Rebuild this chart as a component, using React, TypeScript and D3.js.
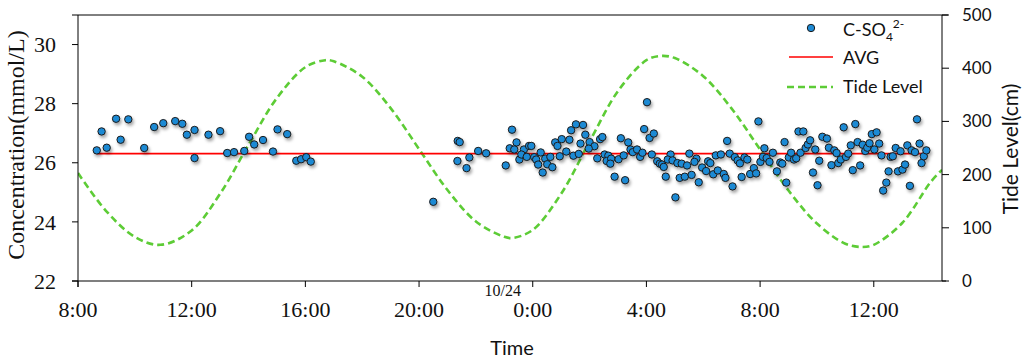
import React from "react";
import * as d3 from "d3";

// time = hours after 10/23 08:00
const concTime: number[] = [
  0.66, 0.83, 1.01, 1.34, 1.5, 1.77, 2.33, 2.68, 3.0, 3.42, 3.67, 3.83, 4.1, 4.1, 4.59, 5.0, 5.25, 5.49, 5.85, 6.02,
  6.2, 6.51, 6.86, 7.02, 7.36, 7.68, 7.85, 8.03, 8.19,
  12.5,
  13.36, 13.43, 13.35, 13.77, 13.67, 14.08, 14.36, 15.05, 15.27, 15.19, 15.43, 15.35, 15.53, 15.69, 15.6, 15.79, 15.87,
  15.95, 16.05, 16.12, 16.19, 16.28, 16.35, 16.44, 16.51, 16.62, 16.69, 16.79, 16.87, 17.02, 16.95, 17.18, 17.29, 17.35,
  17.52, 17.77, 17.85, 17.68, 17.43, 17.62, 18.0, 18.17, 17.97, 18.37, 18.45, 18.27, 18.53, 18.66, 18.6, 18.76, 18.73,
  18.88, 19.02, 19.2, 19.25, 19.1, 19.36, 19.44, 19.52, 19.67, 19.78, 19.86, 19.92, 20.02, 20.11, 20.26, 20.19, 20.38,
  20.47, 20.55, 20.61, 20.68, 20.85, 20.75, 20.92, 21.09, 21.24, 21.43, 21.51, 21.17, 21.35, 21.59, 21.02, 21.76, 21.69,
  21.84, 21.96, 22.1, 22.17, 22.25, 22.35, 22.44, 22.51, 22.62, 22.72, 22.78, 22.84, 22.93, 23.03, 23.11, 23.21, 23.29,
  23.35, 23.45, 23.55, 23.65, 23.78, 23.86, 23.94, 24.01, 24.15, 24.1, 24.23, 24.33, 24.45, 24.59, 24.71, 24.78, 24.86,
  24.92, 25.01, 25.09, 25.19, 25.27, 25.35, 25.52, 25.42, 25.6, 25.68, 25.76, 25.86, 25.94, 26.02, 26.08, 26.19, 26.35,
  26.42, 26.51, 26.61, 26.69, 26.75, 26.84, 26.94, 27.02, 27.1, 27.19, 27.26, 27.35, 27.43, 27.52, 27.61, 27.7, 27.77,
  27.85, 27.93, 28.02, 28.1, 28.19, 28.27, 28.44, 28.33, 28.52, 28.59, 28.67, 28.77, 28.85, 28.94, 29.01, 29.1, 29.18,
  29.27, 29.33, 29.45, 29.52, 29.61, 29.68, 29.76, 29.85,
];
const concValue: number[] = [
  26.42, 27.06, 26.51, 27.49, 26.78, 27.47, 26.5, 27.21, 27.34, 27.41, 27.32, 26.95, 27.11, 26.16, 26.95, 27.07, 26.33,
  26.36, 26.4, 26.88, 26.62, 26.77, 26.38, 27.13, 26.97, 26.07, 26.12, 26.19, 26.04,
  24.68,
  26.74, 26.7, 26.06, 26.18, 25.82, 26.4, 26.32, 25.91, 27.12, 26.49, 26.69, 26.45, 26.11, 26.45, 26.28, 26.2, 26.57,
  26.57, 26.19, 26.11, 25.94, 26.35, 25.67, 26.14, 25.95, 26.2, 25.85, 26.69, 26.57, 26.8, 26.22, 26.38, 26.78, 27.1,
  27.3, 27.28, 26.95, 26.65, 26.24, 26.3, 26.7, 26.56, 26.48, 26.8, 26.87, 26.15, 26.28, 26.24, 26.06, 26.14, 25.97,
  25.53, 26.12, 26.25, 25.41, 26.83, 26.69, 26.45, 26.36, 26.45, 26.2, 26.34, 27.14, 28.05, 26.84, 26.99, 26.28, 26.05,
  25.97, 25.94, 25.86, 25.53, 26.28, 26.11, 26.08, 25.99, 25.97, 25.91, 26.31, 25.49, 25.53, 25.59, 24.83, 26.14, 26.03,
  25.34, 25.84, 25.72, 26.05, 25.99, 25.61, 26.25, 25.74, 26.28, 25.62, 25.49, 26.74, 26.31, 25.2, 26.19, 26.08, 25.98,
  25.52, 26.18, 26.11, 25.62, 25.82, 25.64, 27.4, 26.03, 26.49, 26.2, 26.16, 26.03, 26.34, 25.71, 26.01, 25.97, 26.7,
  25.33, 26.18, 26.34, 26.11, 26.15, 27.06, 27.06, 26.34, 26.5, 26.62, 26.76, 25.67, 26.45, 25.24, 26.07, 26.88, 26.82,
  26.51, 25.92, 26.42, 26.33, 25.99, 26.11, 27.2, 26.2, 26.31, 26.59, 25.75, 27.31, 26.7, 25.91, 26.61, 26.4, 26.51,
  26.66, 26.97, 26.45, 27.03, 26.65, 26.25, 25.33, 25.06, 25.71, 26.2, 26.22, 26.5, 25.71, 26.39, 25.77, 25.94, 26.59,
  25.22, 26.42, 26.36, 27.47, 26.65, 25.99, 26.22, 26.42,
];
const avgValue = 26.31;

const tideTime: number[] = [
  0, 1, 2, 2.9, 4, 5, 6, 7, 8, 8.7, 9, 10, 11, 12, 13, 14, 15, 15.3, 16, 17, 18, 19, 20, 20.5, 21, 22, 23, 24, 25, 26,
  27, 27.6, 28, 29, 30, 30.4,
];
const tideLevel: number[] = [
  203, 131, 83, 68, 95, 164, 256, 344, 402, 415, 413, 384, 325, 248, 171, 112, 83, 81, 96, 164, 262, 357, 415, 423, 419,
  385, 324, 247, 170, 108, 70, 64, 68, 109, 186, 209,
];

const xTickHours: number[] = [0, 4, 8, 12, 16, 20, 24, 28];
const leftTicks: number[] = [22, 24, 26, 28, 30];
const rightTicks: number[] = [0, 100, 200, 300, 400, 500];

const START = new Date(2013, 9, 23, 8, 0, 0);
const toDate = (h: number) => new Date(START.getTime() + h * 3600 * 1000);

export default function App() {
  const L = 78, R = 942, T = 15, B = 281;
  const x = d3.scaleTime().domain([START, toDate(30.4)]).range([L, R]);
  const yL = d3.scaleLinear().domain([22, 31]).range([B, T]);
  const yR = d3.scaleLinear().domain([0, 500]).range([B, T]);
  const fmt = d3.timeFormat("%-H:%M");

  const tidePts = tideTime.map((t, i) => [x(toDate(t)), yR(tideLevel[i])] as [number, number]);
  const tidePath = d3.line().curve(d3.curveCatmullRom.alpha(0.5))(tidePts) || "";

  const pts = concTime.map((t, i) => ({ cx: x(toDate(t)), cy: yL(concValue[i]) }));
  const tMin = d3.min(concTime) as number;
  const tMax = d3.max(concTime) as number;

  const serif = "'Liberation Serif', 'Times New Roman', serif";
  const sans = "Lato, 'Open Sans', sans-serif";
  const blue = "#1E8AD4";
  const green = "#5DCC36";

  return (
    <div style={{ position: "absolute", left: 0, top: 0 }}>
      <svg width={1024} height={360} style={{ display: "block", background: "#fff" }}>
        <defs>
          <filter id="sh" x="-50%" y="-50%" width="200%" height="200%">
            <feDropShadow dx={1.5} dy={2.5} stdDeviation={1.6} floodColor="#000" floodOpacity={0.35} />
          </filter>
          <clipPath id="clip">
            <rect x={L} y={T} width={R - L} height={B - T} />
          </clipPath>
        </defs>

        {/* tide */}
        <path d={tidePath} fill="none" stroke={green} strokeWidth={2.6} strokeDasharray="7,4" clipPath="url(#clip)" />
        {/* avg */}
        <line x1={x(toDate(tMin))} x2={x(toDate(tMax))} y1={yL(avgValue)} y2={yL(avgValue)} stroke="#FF0000" strokeWidth={1.6} />
        {/* points */}
        <g filter="url(#sh)">
          {pts.map((p, i) => (
            <circle key={i} cx={p.cx} cy={p.cy} r={3.7} fill={blue} stroke="#1a1a1a" strokeWidth={1} />
          ))}
        </g>

        {/* frame */}
        <line x1={72} x2={948} y1={T} y2={T} stroke="#000" strokeWidth={1} />
        <line x1={72} x2={946} y1={B} y2={B} stroke="#000" strokeWidth={1.2} />
        <line x1={L} x2={L} y1={T} y2={B + 6} stroke="#000" strokeWidth={1} />
        <line x1={R} x2={R} y1={T} y2={B} stroke="#000" strokeWidth={1} />

        {/* left axis */}
        {leftTicks.map((v) => (
          <g key={v}>
            <line x1={L - 6} x2={L} y1={yL(v)} y2={yL(v)} stroke="#000" />
            <text x={56} y={yL(v)} dy="0.35em" textAnchor="end" fontFamily={serif} fontSize={22} fill="#111">
              {v}
            </text>
          </g>
        ))}
        <text transform="translate(24,145) rotate(-90)" textAnchor="middle" fontFamily={serif} fontSize={24} fill="#111">
          Concentration(mmol/L)
        </text>

        {/* right axis */}
        {rightTicks.map((v) => (
          <g key={v}>
            <line x1={R} x2={R + 7} y1={yR(v)} y2={yR(v)} stroke="#000" />
            <text x={962} y={yR(v)} dy="0.35em" textAnchor="start" fontFamily={sans} fontSize={17} fill="#111">
              {v}
            </text>
          </g>
        ))}
        <text transform="translate(1018,149) rotate(-90)" textAnchor="middle" fontFamily={sans} fontSize={21} fill="#111">
          Tide Level(cm)
        </text>

        {/* x axis */}
        {xTickHours.map((h) => {
          const d = toDate(h);
          return (
            <g key={h}>
              <line x1={x(d)} x2={x(d)} y1={B} y2={B + 6} stroke="#000" />
              <text x={x(d)} y={317} textAnchor="middle" fontFamily={serif} fontSize={22} fill="#111">
                {fmt(d)}
              </text>
            </g>
          );
        })}
        <text x={x(toDate(16)) - 30} y={296} textAnchor="middle" fontFamily={serif} fontSize={16} fill="#111">
          10/24
        </text>
        <text x={512} y={355} textAnchor="middle" fontFamily={sans} fontSize={20} fill="#111">
          Time
        </text>

        {/* legend */}
        <circle cx={811} cy={28} r={3.7} fill={blue} stroke="#1a1a1a" strokeWidth={1} />
        <text x={843} y={36} fontFamily={sans} fontSize={18} fill="#111">
          C-SO
          <tspan fontSize={12} dy={5}>4</tspan>
          <tspan fontSize={12} dy={-13}>2-</tspan>
        </text>
        <line x1={789} x2={833} y1={57} y2={57} stroke="#FF0000" strokeWidth={1.6} />
        <text x={843} y={64} fontFamily={sans} fontSize={18} fill="#111">
          AVG
        </text>
        <line x1={787} x2={833} y1={87} y2={87} stroke={green} strokeWidth={2.6} strokeDasharray="7,4" />
        <text x={843} y={93} fontFamily={sans} fontSize={18} fill="#111">
          Tide Level
        </text>
      </svg>
    </div>
  );
}
